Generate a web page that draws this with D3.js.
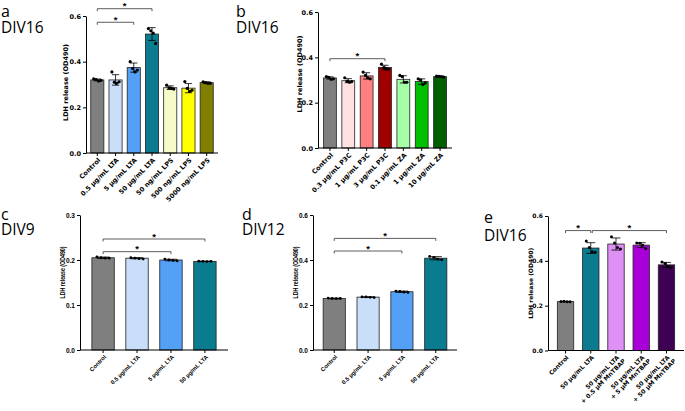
<!DOCTYPE html>
<html><head><meta charset="utf-8">
<script src="https://cdn.jsdelivr.net/npm/d3@7"></script>
<style>body{margin:0;background:#fff}</style>
</head><body>
<svg id="chart" width="685" height="411"></svg>
<script>
// ---------- DATA ----------
const aCategories = ["Control","0.5 µg/mL LTA","5 µg/mL LTA","50 µg/mL LTA","50 ng/mL LPS","500 ng/mL LPS","5000 ng/mL LPS"];
const aMeans = [0.320, 0.320, 0.374, 0.521, 0.286, 0.284, 0.308];
const aSD = [0.004, 0.023, 0.020, 0.028, 0.008, 0.020, 0.004];
const aPoints = [[0.325,0.322,0.315,0.318],[0.355,0.310,0.305,0.312],[0.400,0.370,0.355,0.363],[0.545,0.535,0.525,0.480],[0.297,0.285,0.283,0.280],[0.313,0.283,0.270,0.275],[0.312,0.308,0.305,0.305]];
const aColors = ["#7f7f7f","#c9def8","#55a0f7","#0b7b8f","#f6fbc8","#ffff00","#808000"];

const bCategories = ["Control","0.3 µg/mL P3C","1 µg/mL P3C","3 µg/mL P3C","0.1 µg/mL ZA","1 µg/mL ZA","10 µg/mL ZA"];
const bMeans = [0.309, 0.297, 0.318, 0.355, 0.303, 0.293, 0.315];
const bSD = [0.005, 0.009, 0.014, 0.010, 0.016, 0.012, 0.002];
const bPoints = [[0.315,0.312,0.303,0.305],[0.310,0.295,0.290,0.293],[0.335,0.320,0.310,0.305],[0.370,0.355,0.350,0.348],[0.320,0.315,0.290,0.290],[0.305,0.300,0.280,0.287],[0.317,0.316,0.315,0.313]];
const bColors = ["#7f7f7f","#ffe1e1","#ff8080","#a00000","#a6ffa6","#00c000","#006000"];

const cCategories = ["Control","0.5 µg/mL LTA","5 µg/mL LTA","50 µg/mL LTA"];
const cMeans = [0.205, 0.204, 0.200, 0.197];
const cSD = [0.0015, 0.0012, 0.0017, 0.0005];
const cPoints = [[0.207,0.205,0.204,0.204],[0.205,0.204,0.203,0.202],[0.202,0.200,0.199,0.198],[0.1975,0.197,0.1965,0.197]];
const cColors = ["#7f7f7f","#c9def8","#55a0f7","#0b7b8f"];

const dCategories = ["Control","0.5 µg/mL LTA","5 µg/mL LTA","50 µg/mL LTA"];
const dMeans = [0.229, 0.235, 0.259, 0.408];
const dSD = [0.0015, 0.0015, 0.003, 0.007];
const dPoints = [[0.231,0.229,0.228,0.229],[0.236,0.236,0.234,0.233],[0.262,0.260,0.257,0.256],[0.416,0.412,0.404,0.401]];
const dColors = ["#7f7f7f","#c9def8","#55a0f7","#0b7b8f"];

const eCategories = [["Control"],["50 µg/mL LTA"],["50 µg/mL LTA","+ 0.5 µM MnTBAP"],["50 µg/mL LTA","+ 5 µM MnTBAP"],["50 µg/mL LTA","+ 50 µM MnTBAP"]];
const eMeans = [0.218, 0.457, 0.475, 0.470, 0.382];
const eSD = [0.001, 0.024, 0.027, 0.011, 0.011];
const ePoints = [[0.219,0.220,0.218,0.217],[0.489,0.460,0.440,0.438],[0.507,0.480,0.460,0.453],[0.480,0.478,0.470,0.455],[0.395,0.388,0.375,0.370]];
const eColors = ["#7f7f7f","#0b7b8f","#df90f5","#a900da","#3e0052"];

const yTicks06 = [0, 0.2, 0.4, 0.6];
const yTicks03 = [0, 0.1, 0.2, 0.3];
const yLabel = "LDH release (OD490)";

// ---------- DRAW ----------
const svg = d3.select("#chart");
const WIDE = "'DejaVu Sans', Verdana, sans-serif";
const ARIAL = "'Liberation Sans', Arial, sans-serif";

function drawPanel(cfg) {
  const g = svg.append("g");
  const idx = cfg.cats.map((d, i) => i);
  const x = d3.scaleBand().domain(idx).range([cfg.x0, cfg.x1]).paddingInner(cfg.pi).paddingOuter(cfg.po);
  const y = d3.scaleLinear().domain([0, cfg.ymax]).range([cfg.y0, cfg.y1]);
  const bw = x.bandwidth();

  // bars
  g.selectAll("rect.bar").data(cfg.means).join("rect")
    .attr("x", (d, i) => x(i)).attr("y", d => y(d))
    .attr("width", bw).attr("height", d => y(0) - y(d))
    .attr("fill", (d, i) => cfg.colors[i]).attr("stroke", "#222").attr("stroke-width", 0.8);

  // error bars + points
  const cap = bw * 0.55;
  cfg.means.forEach((m, i) => {
    const cx = x(i) + bw / 2;
    const e = g.append("g").attr("stroke", "#000").attr("stroke-width", 0.8);
    e.append("line").attr("x1", cx).attr("x2", cx).attr("y1", y(m - cfg.sd[i])).attr("y2", y(m + cfg.sd[i]));
    e.append("line").attr("x1", cx - cap / 2).attr("x2", cx + cap / 2).attr("y1", y(m + cfg.sd[i])).attr("y2", y(m + cfg.sd[i]));
    e.append("line").attr("x1", cx - cap / 2).attr("x2", cx + cap / 2).attr("y1", y(m - cfg.sd[i])).attr("y2", y(m - cfg.sd[i]));
    const pts = cfg.points[i];
    const spread = bw * 0.55;
    g.selectAll(null).data(pts).join("circle")
      .attr("cx", (p, j) => cx - spread / 2 + spread * j / (pts.length - 1))
      .attr("cy", p => y(p)).attr("r", cfg.r).attr("fill", "#000");
  });

  // y axis
  const ya = g.append("g").attr("transform", `translate(${cfg.x0},0)`)
    .call(d3.axisLeft(y).tickValues(cfg.ticks).tickFormat(d3.format(".1f")).tickSize(3).tickSizeOuter(0).tickPadding(2));
  ya.select(".domain").attr("stroke", "#000").attr("stroke-width", 1);
  ya.selectAll(".tick line").attr("stroke", "#000");
  ya.selectAll(".tick text").attr("font-family", cfg.tickFont).attr("font-weight", "bold")
    .attr("font-size", cfg.tickSize).attr("fill", "#000");

  // x axis
  const xa = g.append("g").attr("transform", `translate(0,${cfg.y0})`)
    .call(d3.axisBottom(x).tickSize(3).tickSizeOuter(0).tickFormat(""));
  xa.select(".domain").attr("stroke", "#000").attr("stroke-width", 1)
    .attr("d", `M${cfg.x0},0H${cfg.x1}`);
  xa.selectAll(".tick line").attr("stroke", "#000");

  // x labels
  cfg.cats.forEach((c, i) => {
    const lines = Array.isArray(c) ? c : [c];
    const t = g.append("text")
      .attr("transform", `translate(${x(i) + bw / 2 + 2},${cfg.y0 + 6}) rotate(-45)`)
      .attr("text-anchor", "end").attr("font-family", cfg.xFont).attr("font-weight", "bold")
      .attr("font-size", cfg.xSize).attr("fill", "#000");
    lines.forEach((l, k) => {
      t.append("tspan").attr("x", k * 2).attr("y", 0).attr("dy", (k * 1.15 + 0.35) + "em").text(l);
    });
  });

  // y label
  const yl = g.append("text")
    .attr("transform", `translate(${cfg.ylx},${(cfg.y0 + cfg.y1) / 2 + cfg.ylShift}) rotate(-90)`)
    .attr("text-anchor", "middle").attr("font-family", cfg.ylFont).attr("font-weight", "bold")
    .attr("font-size", cfg.ylSize).attr("fill", "#000").text(yLabel);
  if (cfg.ylLen) yl.attr("textLength", cfg.ylLen).attr("lengthAdjust", "spacingAndGlyphs");

  // brackets
  cfg.brackets.forEach(b => {
    const xa1 = x(b.from) + bw / 2 + (b.dx1 || 0), xa2 = x(b.to) + bw / 2 + (b.dx2 || 0);
    const yy = y(b.level);
    g.append("path").attr("d", `M${xa1},${yy + 2.5}V${yy}H${xa2}V${yy + 2.5}`)
      .attr("fill", "none").attr("stroke", "#333").attr("stroke-width", 0.8);
    g.append("text").attr("x", (xa1 + xa2) / 2).attr("y", yy + 0.8).attr("text-anchor", "middle")
      .attr("font-family", ARIAL).attr("font-weight", "bold").attr("font-size", 9.5).attr("fill", "#000").text("*");
  });

  // panel letter & title (one text, two lines)
  const pt = svg.append("text").attr("font-family", "'Open Sans', sans-serif").attr("fill", "#000");
  pt.append("tspan").attr("x", cfg.lx).attr("y", cfg.ly).attr("font-size", 16).text(cfg.letter);
  pt.append("tspan").attr("x", cfg.lx).attr("y", cfg.ly + cfg.tdy).attr("font-size", 15.5).text(cfg.title);
}

drawPanel({cats: aCategories, means: aMeans, sd: aSD, points: aPoints, colors: aColors,
  x0: 86, x1: 218, y0: 153, y1: 16, ymax: 0.6, ticks: yTicks06, pi: 0.28, po: 0.26, r: 1.6,
  tickFont: WIDE, tickSize: 6.5, xFont: WIDE, xSize: 6.5, ylFont: WIDE, ylSize: 6.5, ylx: 67.5, ylShift: -2,
  brackets: [{from: 0, to: 2, level: 0.5725}, {from: 0, to: 3, level: 0.632}],
  letter: "a", title: "DIV16", lx: 1, ly: 17, tdy: 16});

drawPanel({cats: bCategories, means: bMeans, sd: bSD, points: bPoints, colors: bColors,
  x0: 318, x1: 452, y0: 148, y1: 12, ymax: 0.6, ticks: yTicks06, pi: 0.3, po: 0.3, r: 1.6,
  tickFont: WIDE, tickSize: 6.5, xFont: WIDE, xSize: 6.5, ylFont: WIDE, ylSize: 6.5, ylx: 302, ylShift: -6,
  brackets: [{from: 0, to: 3, level: 0.394}],
  letter: "b", title: "DIV16", lx: 236, ly: 17, tdy: 16});

drawPanel({cats: cCategories, means: cMeans, sd: cSD, points: cPoints, colors: cColors,
  x0: 80, x1: 228, y0: 350, y1: 215, ymax: 0.3, ticks: yTicks03, pi: 0.34, po: 0.35, r: 1.4,
  tickFont: ARIAL, tickSize: 6.5, xFont: ARIAL, xSize: 5.8, ylFont: ARIAL, ylSize: 6.8, ylLen: 52, ylx: 65, ylShift: -10,
  brackets: [{from: 0, to: 2, level: 0.2185}, {from: 0, to: 3, level: 0.2467}],
  letter: "c", title: "DIV9", lx: 1, ly: 220, tdy: 15});

drawPanel({cats: dCategories, means: dMeans, sd: dSD, points: dPoints, colors: dColors,
  x0: 313, x1: 457, y0: 350, y1: 215, ymax: 0.6, ticks: yTicks06, pi: 0.345, po: 0.3, r: 1.4,
  tickFont: ARIAL, tickSize: 6.5, xFont: ARIAL, xSize: 5.8, ylFont: ARIAL, ylSize: 6.8, ylLen: 52, ylx: 298, ylShift: -10,
  brackets: [{from: 0, to: 2, level: 0.44}, {from: 0, to: 3, level: 0.496}],
  letter: "d", title: "DIV12", lx: 242, ly: 220, tdy: 15});

drawPanel({cats: eCategories, means: eMeans, sd: eSD, points: ePoints, colors: eColors,
  x0: 548, x1: 684, y0: 350.5, y1: 216, ymax: 0.6, ticks: yTicks06, pi: 0.35, po: 0.37, r: 1.5,
  tickFont: WIDE, tickSize: 6, xFont: WIDE, xSize: 6, ylFont: WIDE, ylSize: 6, ylx: 533, ylShift: 0,
  brackets: [{from: 0, to: 1, level: 0.535}, {from: 1, to: 4, level: 0.535, dx1: 1.5}],
  letter: "e", title: "DIV16", lx: 484, ly: 223, tdy: 18});
</script>
</body></html>
